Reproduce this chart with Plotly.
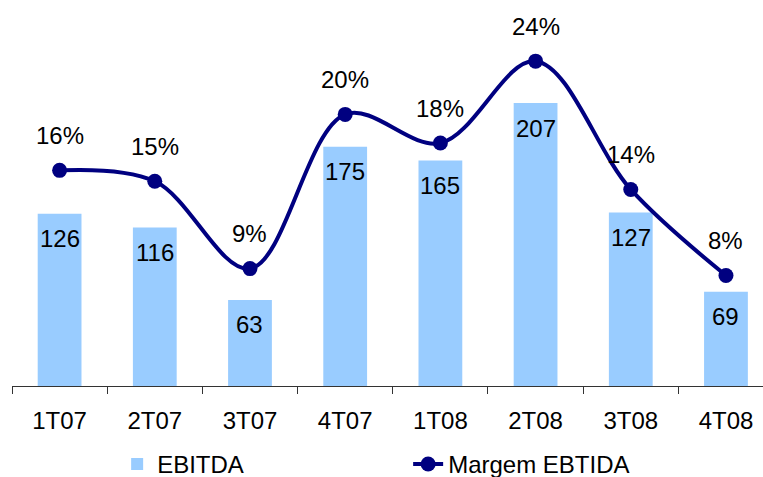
import plotly.graph_objects as go

categories = ["1T07", "2T07", "3T07", "4T07", "1T08", "2T08", "3T08", "4T08"]
ebitda = [126, 116, 63, 175, 165, 207, 127, 69]
margem = [15.8, 15.0, 8.6, 19.9, 17.8, 23.8, 14.4, 8.1]
margem_labels = ["16%", "15%", "9%", "20%", "18%", "24%", "14%", "8%"]

FONT = "Liberation Sans, Arial, sans-serif"
FS = 24

fig = go.Figure()
fig.add_trace(go.Bar(
    x=categories, y=ebitda, name="EBITDA",
    marker=dict(color="#99CCFF", line=dict(width=0)),
    width=0.46,
))
fig.add_trace(go.Scatter(
    x=categories, y=margem, name="Margem EBTIDA", yaxis="y2",
    mode="lines+markers",
    line=dict(color="#000080", width=4, shape="spline", smoothing=1.0),
    marker=dict(color="#000080", size=15),
))

annotations = []
for c, v in zip(categories, ebitda):
    annotations.append(dict(x=c, y=v, xref="x", yref="y", text=str(v),
                            showarrow=False, yanchor="middle", yshift=-25,
                            font=dict(family=FONT, size=FS, color="#000000")))
for c, v, t in zip(categories, margem, margem_labels):
    annotations.append(dict(x=c, y=v, xref="x", yref="y2", text=t,
                            showarrow=False, yanchor="middle", yshift=35,
                            font=dict(family=FONT, size=FS, color="#000000")))

fig.update_layout(
    width=763, height=477,
    margin=dict(l=12, r=0, t=0, b=91, autoexpand=False),
    paper_bgcolor="white", plot_bgcolor="white",
    font=dict(family=FONT, size=FS, color="#000000"),
    bargap=0.54,
    showlegend=True,
    legend=dict(orientation="h", x=0.14, y=-0.145, xanchor="left", yanchor="top",
                entrywidth=246, entrywidthmode="pixels",
                font=dict(family=FONT, size=FS, color="#000000"),
                bgcolor="rgba(0,0,0,0)", tracegroupgap=0, itemsizing="trace"),
    xaxis=dict(range=[-0.5, 7.389], showline=True, linecolor="#333333", linewidth=1,
               ticks="outside", tickson="boundaries", ticklen=7, tickcolor="#333333",
               showgrid=False, zeroline=False, ticklabelstandoff=13,
               tickfont=dict(family=FONT, size=FS, color="#000000")),
    yaxis=dict(range=[0, 282.4], visible=False, showgrid=False, zeroline=False),
    yaxis2=dict(range=[0, 28.28], overlaying="y", side="right", visible=False,
                showgrid=False, zeroline=False),
    annotations=annotations,
)

fig.write_html("out.html")
